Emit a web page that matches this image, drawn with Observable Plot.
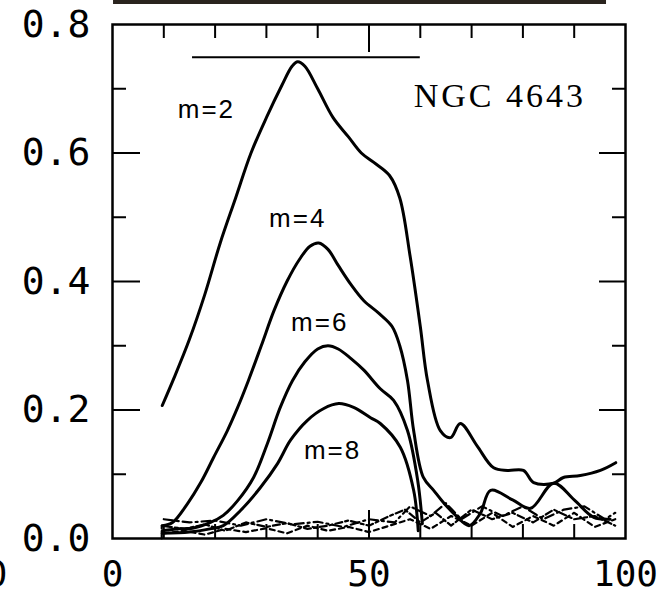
<!DOCTYPE html>
<html><head><meta charset="utf-8">
<script src="https://cdn.jsdelivr.net/npm/d3@7"></script>
<script src="https://cdn.jsdelivr.net/npm/@observablehq/plot@0.6"></script>
<style>body{margin:0;background:#fff} #chart svg{display:block}</style>
</head><body><div id="chart"></div>
<script>
// ---- data (radius %, amplitude) ----
const m2 = [[9.7,0.207],[12,0.25],[15,0.31],[18,0.38],[21,0.46],[24,0.53],[27,0.60],[30,0.655],[33,0.705],[35,0.735],[36.1,0.742],[37.5,0.735],[40,0.70],[43,0.655],[46,0.625],[48.5,0.60],[51,0.585],[54,0.565],[56,0.53],[58,0.44],[60,0.33],[61.4,0.246],[63.9,0.168],[65.9,0.157],[67.8,0.179],[71,0.145],[74.3,0.11],[77,0.106],[80.1,0.106],[82.1,0.087],[86,0.086],[87.9,0.095],[91.2,0.098],[95.1,0.106],[98.1,0.118]];
const m4 = [[9.7,0.02],[11.7,0.025],[14.6,0.054],[17.2,0.087],[19.7,0.126],[22.4,0.168],[24.4,0.204],[26.5,0.246],[29,0.30],[31.5,0.355],[34,0.40],[36.5,0.435],[38.5,0.455],[40.2,0.46],[42,0.45],[44,0.425],[46.5,0.395],[49,0.37],[52,0.35],[54.5,0.33],[56,0.30],[57.5,0.246],[58.7,0.168],[60.6,0.095],[62.6,0.075],[64.5,0.056],[66.9,0.036],[69.5,0.02],[71.7,0.039],[73.7,0.075],[78,0.06],[81.5,0.047],[86,0.086],[90,0.06],[93.8,0.033],[97,0.03]];
const m6 = [[9.7,0.012],[13,0.015],[15.6,0.016],[19.1,0.025],[21.6,0.036],[24.4,0.059],[27.5,0.095],[30.2,0.148],[32.7,0.204],[35.1,0.246],[37.5,0.275],[40,0.295],[42,0.30],[44,0.295],[46.5,0.28],[49,0.262],[52.2,0.233],[54.8,0.215],[57.5,0.168],[59.5,0.09],[60.4,0.023]];
const m8 = [[9.7,0.008],[15,0.01],[19,0.015],[21.6,0.02],[25,0.044],[28.8,0.079],[32.2,0.117],[34.7,0.153],[38,0.184],[41.1,0.202],[44.1,0.21],[47,0.204],[50.3,0.188],[52.2,0.179],[56.1,0.142],[58.7,0.075],[59.6,0.012]];
// higher-order terms hugging the baseline
const n1 = [[9.6,0],[9.6,0.02],[14,0.015],[18,0.022],[22,0.012],[26,0.025],[30,0.018],[34,0.024],[38,0.015],[42,0.02],[46,0.028],[50,0.02],[54,0.035],[57,0.045],[60,0.025],[63,0.04],[66,0.02],[70,0.045],[74,0.03],[78,0.04],[82,0.025],[86,0.045],[90,0.03],[94,0.035],[98,0.02]];
const n2 = [[10,0.008],[14,0.012],[18,0.006],[22,0.015],[26,0.01],[30,0.016],[34,0.008],[38,0.02],[42,0.012],[46,0.018],[50,0.01],[54,0.02],[58,0.03],[62,0.015],[66,0.035],[70,0.02],[74,0.04],[78,0.018],[82,0.035],[86,0.02],[90,0.04],[94,0.018],[98,0.03]];
const n3 = [[10,0.03],[15,0.025],[20,0.028],[25,0.02],[30,0.03],[35,0.022],[40,0.026],[45,0.018],[50,0.03],[55,0.025],[58,0.05],[62,0.035],[65,0.055],[68,0.03],[72,0.05],[76,0.035],[80,0.05],[84,0.03],[88,0.045],[92,0.05],[96,0.03],[98,0.04]];
const barRange = [15.6, 60];      // horizontal bar at top
const barLevel = 0.749;
const seriesLabels = ["m=2","m=4","m=6","m=8"];
const labelX = [18.3, 36.1, 40.4, 42.9];
const labelY = [0.668, 0.498, 0.336, 0.137];
const title = "NGC 4643";
const xLabels = [0, 50, 100];
const yLabels = [0, 0.2, 0.4, 0.6, 0.8];
const xMinor = [10,20,30,40,60,70,80,90];
const xMajor = [50];
const yMinor = [0.1,0.3,0.5,0.7];
const yMajor = [0.2,0.4,0.6];

// ---- layout ----
const W=661, H=596, mL=112, mR=36, mT=24, mB=58;
const pxX = 100/(W-mL-mR), pxY = 0.8/(H-mT-mB);
const tickFont = "DejaVu Sans Mono";
const lineOpts = {stroke:"#000", strokeWidth:3, curve:"catmull-rom", strokeLinejoin:"round"};
const noiseOpts = {stroke:"#000", strokeWidth:2.2, strokeDasharray:"7,3,3,3"};

const chart = Plot.plot({
  width:W, height:H, marginLeft:mL, marginRight:mR, marginTop:mT, marginBottom:mB,
  style:{background:"#fff", color:"#000", overflow:"hidden"},
  x:{domain:[0,100]}, y:{domain:[0,0.8]},
  marks:[
    Plot.frame({stroke:"#000", strokeWidth:2.5}),
    // inward ticks
    Plot.ruleX(xMinor, {y1:0, y2:14*pxY, strokeWidth:2}),
    Plot.ruleX(xMajor, {y1:0, y2:28*pxY, strokeWidth:2}),
    Plot.ruleX(xMinor, {y1:0.8, y2:0.8-14*pxY, strokeWidth:2}),
    Plot.ruleX(xMajor, {y1:0.8, y2:0.8-28*pxY, strokeWidth:2}),
    Plot.ruleY(yMinor, {x1:0, x2:14*pxX, strokeWidth:2}),
    Plot.ruleY(yMajor, {x1:0, x2:28*pxX, strokeWidth:2}),
    Plot.ruleY(yMinor, {x1:100, x2:100-13*pxX, strokeWidth:2}),
    Plot.ruleY(yMajor, {x1:100, x2:100-26*pxX, strokeWidth:2}),
    Plot.axisX({ticks:xLabels, tickSize:0, tickPadding:22, fontSize:36, fontFamily:tickFont, tickFormat:d=>String(d), label:null}),
    Plot.axisY({ticks:yLabels, tickSize:0, tickPadding:22, fontSize:38, fontFamily:tickFont, tickFormat:d3.format(".1f"), label:null}),
    // fragment of neighbouring panel's label and frame
    Plot.text([{x:-22.6, t:"0"}], {x:"x", y:0, text:"t", lineAnchor:"top", dy:22, fontSize:36, fontFamily:tickFont}),
    Plot.ruleY([0.8 + 22.5*pxY], {x1:0.2, x2:96.3, stroke:"#2a241e", strokeWidth:4}),
    // bar
    Plot.ruleY([barLevel], {x1:barRange[0], x2:barRange[1], strokeWidth:2}),
    // noise
    Plot.line(n1, {x:d=>d[0], y:d=>d[1], ...noiseOpts}),
    Plot.line(n2, {x:d=>d[0], y:d=>d[1], ...noiseOpts, strokeDasharray:"5,4"}),
    Plot.line(n3, {x:d=>d[0], y:d=>d[1], ...noiseOpts, strokeDasharray:"9,4,2,4"}),
    // main curves
    Plot.line(m2, {x:d=>d[0], y:d=>d[1], ...lineOpts}),
    Plot.line(m4, {x:d=>d[0], y:d=>d[1], ...lineOpts}),
    Plot.line(m6, {x:d=>d[0], y:d=>d[1], ...lineOpts}),
    Plot.line(m8, {x:d=>d[0], y:d=>d[1], ...lineOpts}),
    Plot.text(seriesLabels, {x:(d,i)=>labelX[i], y:(d,i)=>labelY[i], text:d=>d, fontSize:26, fontFamily:"Liberation Sans", fill:"#000"}),
    Plot.text([title], {x:58.7, y:0.688, text:d=>d, textAnchor:"start", fontSize:34, fontFamily:"Liberation Serif", fill:"#000"})
  ]
});
chart.querySelectorAll("text").forEach(t=>{
  if (t.textContent===title) t.setAttribute("letter-spacing","3");
  if (/^m=/.test(t.textContent)) t.setAttribute("letter-spacing","2");
});
document.getElementById("chart").appendChild(chart);
</script></body></html>
